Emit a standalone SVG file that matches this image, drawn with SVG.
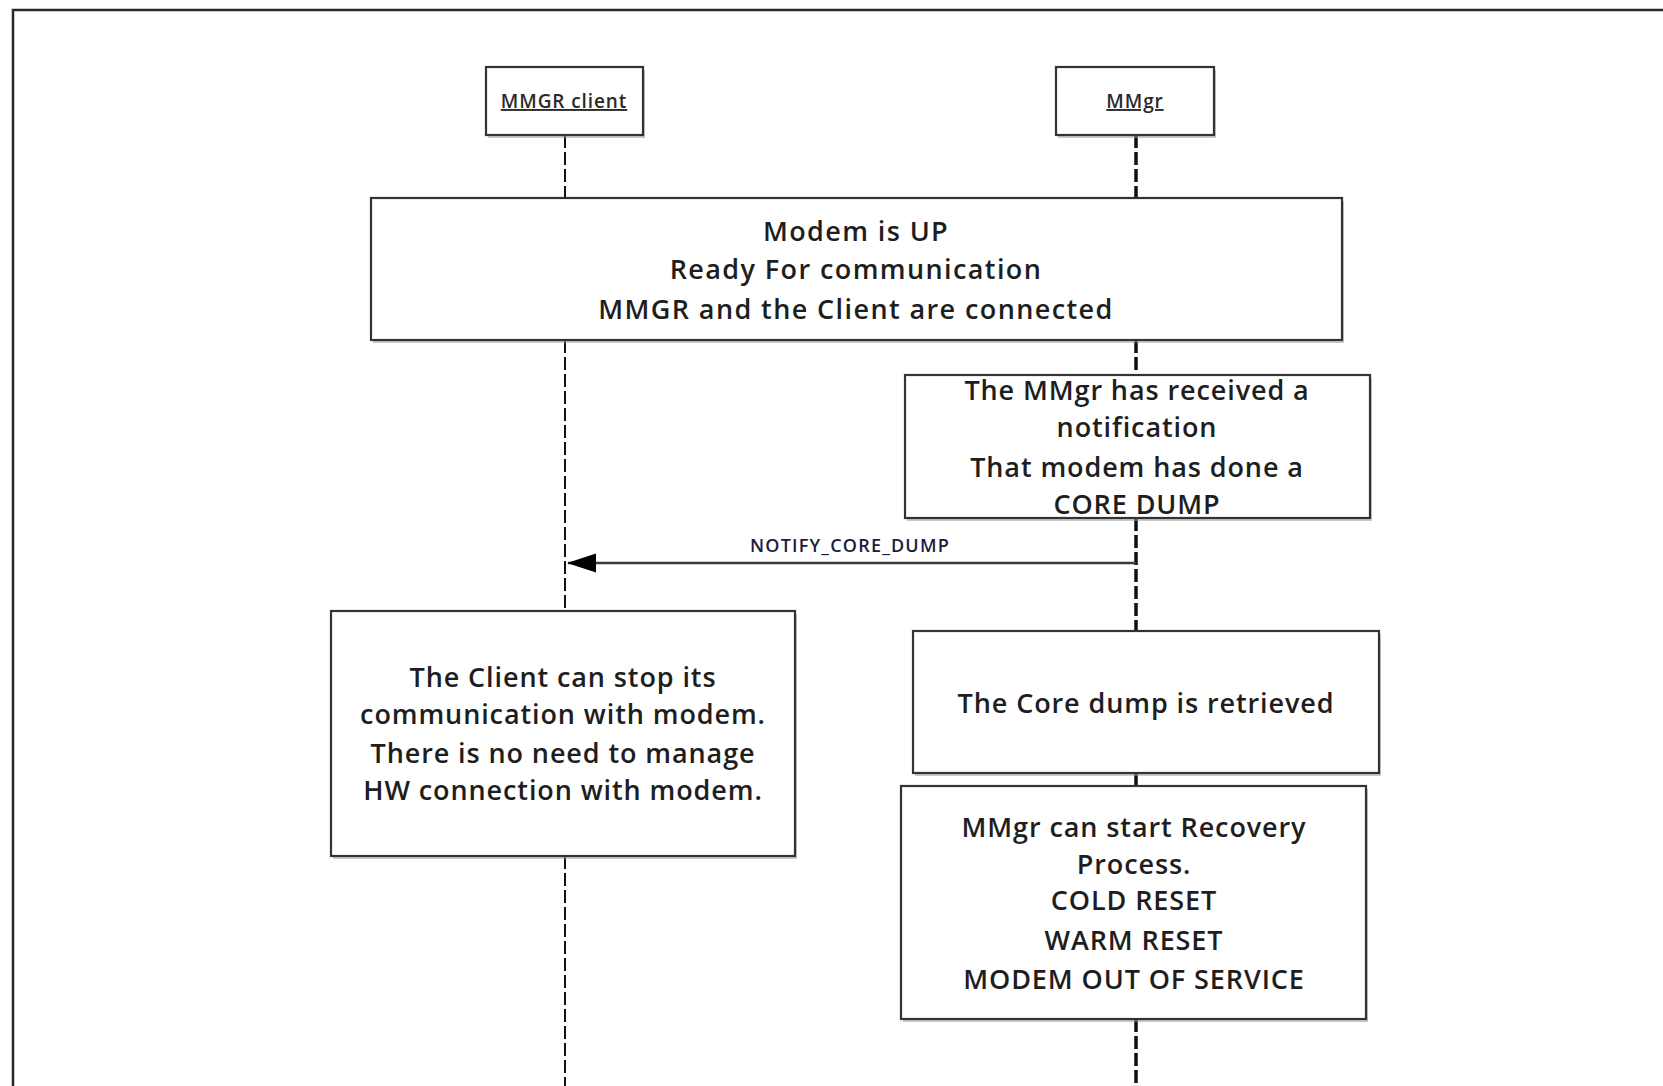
<svg xmlns="http://www.w3.org/2000/svg" width="1663" height="1086" viewBox="0 0 1663 1086">
  <defs>
    <style>
      .box { fill: #ffffff; stroke: #333333; stroke-width: 2.2; }
      .shadow { fill: #9a9a9a; opacity: 0.55; }
      .life { fill: none; stroke: #111111; stroke-dasharray: 13 4; }
      .life-a { stroke-width: 2; }
      .life-b { stroke-width: 3.5; }
      .txt { font-family: "Open Sans", "Liberation Sans", sans-serif; font-size: 27px; font-weight: 600; fill: #1e1e1e; text-anchor: middle; letter-spacing: 0.9px; }
      .txt-wide { letter-spacing: 1.4px; }
      .head { font-family: "Open Sans", "Liberation Sans", sans-serif; font-size: 19px; font-weight: 600; fill: #2a2a2a; text-anchor: middle; text-decoration: underline; letter-spacing: 0.9px; }
      .msg { font-family: "Open Sans", "Liberation Sans", sans-serif; font-size: 18px; font-weight: 600; fill: #1c1c3a; text-anchor: middle; letter-spacing: 1.2px; }
    </style>
  </defs>

  <rect width="1663" height="1086" fill="#ffffff"/>

  <!-- page frame (only top and left edges fall inside the view) -->
  <path d="M13,1086 L13,10 L1663,10" fill="none" stroke="#2a2a2a" stroke-width="2.5"/>

  <!-- lifelines and message arrows -->
  <g id="connectors">
    <line class="life life-a" x1="565" y1="135" x2="565" y2="198"/>
    <line class="life life-a" x1="565" y1="340" x2="565" y2="611"/>
    <line class="life life-a" x1="565" y1="856" x2="565" y2="1086"/>
    <line class="life life-b" x1="1136" y1="135" x2="1136" y2="198"/>
    <line class="life life-b" x1="1136" y1="340" x2="1136" y2="375"/>
    <line class="life life-b" x1="1136" y1="518" x2="1136" y2="631"/>
    <line class="life life-b" x1="1136" y1="773" x2="1136" y2="786"/>
    <line class="life life-b" x1="1136" y1="1019" x2="1136" y2="1086"/>
    <line x1="1136" y1="563" x2="568" y2="563" stroke="#3a3a3a" stroke-width="2.5"/>
    <path d="M567,563 L596,553.5 L596,572.5 Z" fill="#000000"/>
    <text class="msg" x="850" y="552">NOTIFY_CORE_DUMP</text>
  </g>

  <g id="mmgr-client">
    <rect class="shadow" x="488" y="70" width="157" height="68"/>
    <rect class="box" x="486" y="67" width="157" height="68"/>
    <text class="head" x="564" y="108">MMGR client</text>
  </g>

  <g id="mmgr">
    <rect class="shadow" x="1058" y="70" width="158" height="68"/>
    <rect class="box" x="1056" y="67" width="158" height="68"/>
    <text class="head" x="1135" y="108">MMgr</text>
  </g>

  <g id="modem-up">
    <rect class="shadow" x="373" y="201" width="971" height="142"/>
    <rect class="box" x="371" y="198" width="971" height="142"/>
    <text class="txt txt-wide" x="856" y="241">Modem is UP</text>
    <text class="txt txt-wide" x="856" y="279">Ready For communication</text>
    <text class="txt txt-wide" x="856" y="319">MMGR and the Client are connected</text>
  </g>

  <g id="notification">
    <rect class="shadow" x="907" y="378" width="465" height="143"/>
    <rect class="box" x="905" y="375" width="465" height="143"/>
    <text class="txt" x="1137" y="400">The MMgr has received a</text>
    <text class="txt" x="1137" y="437">notification</text>
    <text class="txt" x="1137" y="477">That modem has done a</text>
    <text class="txt" x="1137" y="514">CORE DUMP</text>
  </g>

  <g id="client-stop">
    <rect class="shadow" x="333" y="614" width="464" height="245"/>
    <rect class="box" x="331" y="611" width="464" height="245"/>
    <text class="txt" x="563" y="687">The Client can stop its</text>
    <text class="txt" x="563" y="724">communication with modem.</text>
    <text class="txt" x="563" y="763">There is no need to manage</text>
    <text class="txt" x="563" y="800">HW connection with modem.</text>
  </g>

  <g id="core-dump">
    <rect class="shadow" x="915" y="634" width="466" height="142"/>
    <rect class="box" x="913" y="631" width="466" height="142"/>
    <text class="txt" x="1146" y="713">The Core dump is retrieved</text>
  </g>

  <g id="recovery">
    <rect class="shadow" x="903" y="789" width="465" height="233"/>
    <rect class="box" x="901" y="786" width="465" height="233"/>
    <text class="txt" x="1134" y="837">MMgr can start Recovery</text>
    <text class="txt" x="1134" y="874">Process.</text>
    <text class="txt" x="1134" y="910">COLD RESET</text>
    <text class="txt" x="1134" y="950">WARM RESET</text>
    <text class="txt" x="1134" y="989">MODEM OUT OF SERVICE</text>
  </g>
</svg>
